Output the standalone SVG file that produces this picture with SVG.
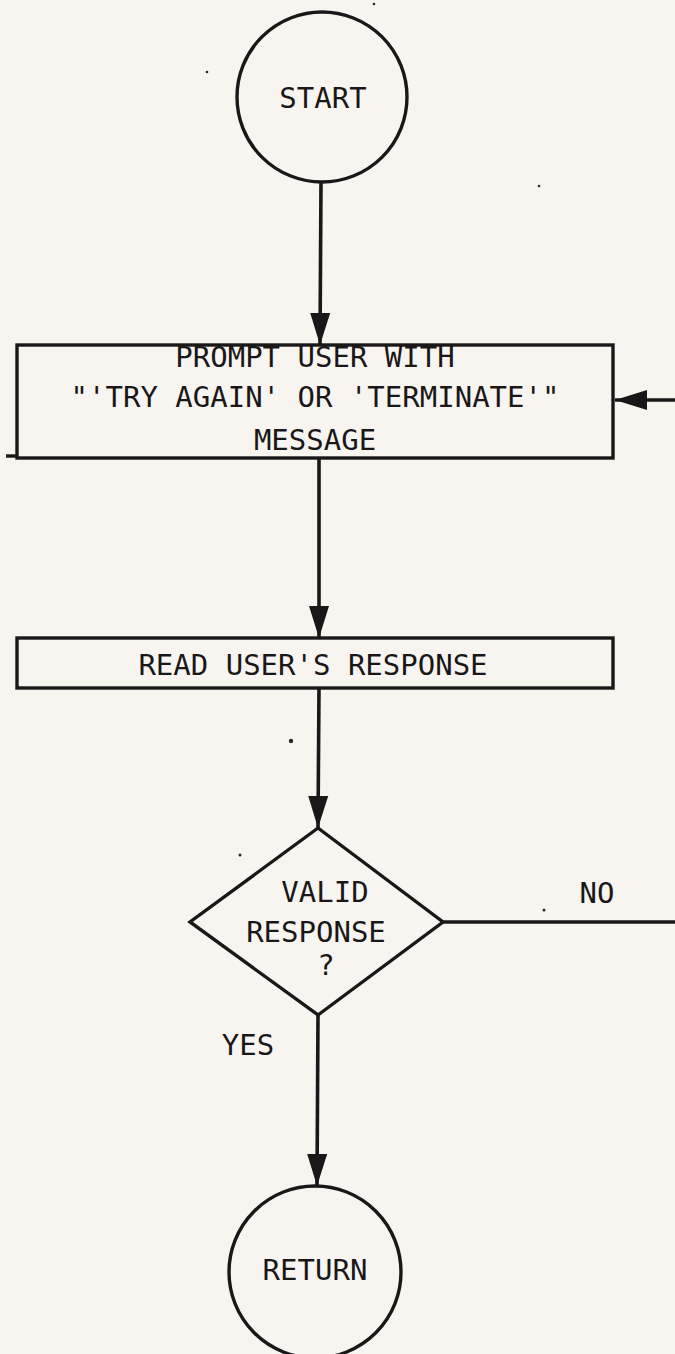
<svg xmlns="http://www.w3.org/2000/svg" width="675" height="1354" viewBox="0 0 675 1354">
<style>
.shape{fill:none;stroke:#1a1718;stroke-width:3.4}
.conn{fill:none;stroke:#1a1718;stroke-width:3.6}
.lbl{font-family:"DejaVu Sans Mono","Liberation Mono",monospace;font-size:29px;fill:#1a1718;text-anchor:middle}
.speck{fill:#2a2526}
</style>
<defs>
<marker id="arr" viewBox="0 0 32 22" refX="32" refY="11" markerWidth="32" markerHeight="22" markerUnits="userSpaceOnUse" orient="auto">
<path d="M0,1 L32,11 L0,21 Z" fill="#1a1718"/>
</marker>
</defs>
<rect width="675" height="1354" fill="#f8f5f1"/>
<g id="connectors">
<line class="conn" x1="321" y1="182" x2="320" y2="345" marker-end="url(#arr)"/>
<line class="conn" x1="319" y1="458" x2="319" y2="638" marker-end="url(#arr)"/>
<line class="conn" x1="319" y1="688" x2="318" y2="828" marker-end="url(#arr)"/>
<line class="conn" x1="318" y1="1015" x2="317" y2="1186" marker-end="url(#arr)"/>
<line class="conn" x1="443" y1="922" x2="675" y2="922"/>
<line class="conn" x1="675" y1="400" x2="615" y2="400" marker-end="url(#arr)"/>
<text class="lbl" x="597" y="903">NO</text>
<text class="lbl" x="248" y="1055">YES</text>
</g>
<g id="start">
<circle class="shape" cx="322" cy="97" r="85"/>
<text class="lbl" x="323" y="108">START</text>
</g>
<g id="prompt">
<rect class="shape" x="17" y="345" width="596" height="113"/>
<line class="shape" x1="6" y1="456" x2="17" y2="456"/>
<text class="lbl" x="315" y="367">PROMPT USER WITH</text>
<text class="lbl" x="315" y="407">"'TRY AGAIN' OR 'TERMINATE'"</text>
<text class="lbl" x="315" y="450">MESSAGE</text>
</g>
<g id="read">
<rect class="shape" x="17" y="638" width="596" height="50"/>
<text class="lbl" x="313" y="675">READ USER'S RESPONSE</text>
</g>
<g id="valid">
<polygon class="shape" points="318,828 443,922 318,1015 190,922"/>
<text class="lbl" x="325" y="902">VALID</text>
<text class="lbl" x="316" y="942">RESPONSE</text>
<text class="lbl" x="326" y="975">?</text>
</g>
<g id="return">
<circle class="shape" cx="315" cy="1272" r="86"/>
<text class="lbl" x="315" y="1280">RETURN</text>
</g>
<g id="specks">
<circle class="speck" cx="291" cy="741" r="2.2"/>
<circle class="speck" cx="240" cy="855" r="1.5"/>
<circle class="speck" cx="544" cy="910" r="1.5"/>
<circle class="speck" cx="207" cy="72" r="1.3"/>
<circle class="speck" cx="374" cy="4" r="1.3"/>
<circle class="speck" cx="539" cy="186" r="1.3"/>
</g>
</svg>
